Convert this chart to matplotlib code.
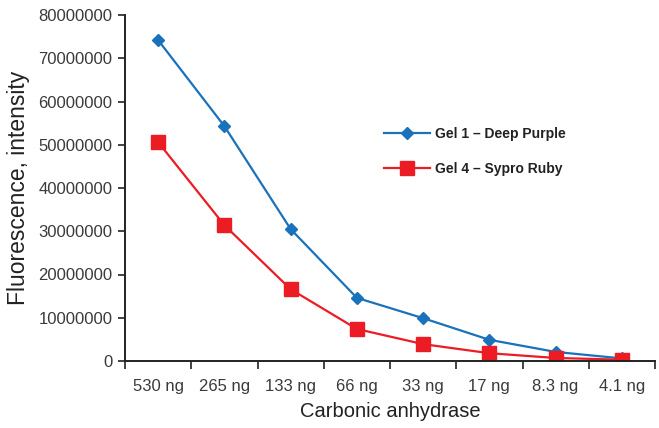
import matplotlib
matplotlib.use("Agg")
import matplotlib.pyplot as plt
import numpy as np

# ------------------ data ------------------
amounts = ["530 ng", "265 ng", "133 ng", "66 ng", "33 ng", "17 ng", "8.3 ng", "4.1 ng"]
deep_purple = [74200000, 54300000, 30500000, 14600000, 9900000, 4900000, 2100000, 600000]
sypro_ruby = [50600000, 31400000, 16600000, 7400000, 3900000, 1800000, 700000, 300000]
y_ticks = [0, 10000000, 20000000, 30000000, 40000000, 50000000, 60000000, 70000000, 80000000]

plt.rcParams['font.family'] = ['Liberation Sans Narrow', 'Liberation Sans', 'DejaVu Sans']

fig = plt.figure(figsize=(6.59, 4.28), dpi=100)
ax = fig.add_axes([125 / 659, 1 - 361 / 428, 530 / 659, 346 / 428])

x = np.arange(len(amounts))
ax.plot(x, deep_purple, color="#1a72bb", lw=1.6, marker="D", ms=6.5,
        label="Gel 1 \u2013 Deep Purple")
ax.plot(x, sypro_ruby, color="#ec1c24", lw=1.6, marker="s", ms=10,
        label="Gel 4 \u2013 Sypro Ruby")

ax.set_xlim(-0.5, len(amounts) - 0.5)
ax.set_ylim(0, 80000000)
ax.set_yticks(y_ticks)
ax.set_yticklabels([str(v) for v in y_ticks])

# category ticks sit between the labels
ax.set_xticks(np.arange(-0.5, len(amounts)), minor=False)
ax.set_xticklabels([])
ax.set_xticks(x, minor=True)
ax.set_xticklabels(amounts, minor=True)
ax.tick_params(axis="x", which="minor", length=0, pad=13, labelsize=12, labelcolor="#3a3a3a")
ax.tick_params(axis="x", which="major", length=6, width=1.2, color="#222222")
ax.tick_params(axis="y", length=5, width=1.2, color="#222222", labelsize=12, labelcolor="#3a3a3a", pad=4)

for side in ["top", "right"]:
    ax.spines[side].set_visible(False)
for side in ["left", "bottom"]:
    ax.spines[side].set_linewidth(1.4)
    ax.spines[side].set_color("#222222")

ax.set_xlabel("Carbonic anhydrase", fontsize=14.5, color="#222222", labelpad=6)
ax.set_ylabel("Fluorescence, intensity", fontsize=16.5, color="#222222", labelpad=6)

leg = ax.legend(loc="center left", bbox_to_anchor=(0.465, 0.605), frameon=False,
                prop={"weight": "bold", "size": 10}, handlelength=3.3,
                labelspacing=1.5, handletextpad=0.4)
for t in leg.get_texts():
    t.set_color("#222222")

fig.savefig("out.png", dpi=100)
